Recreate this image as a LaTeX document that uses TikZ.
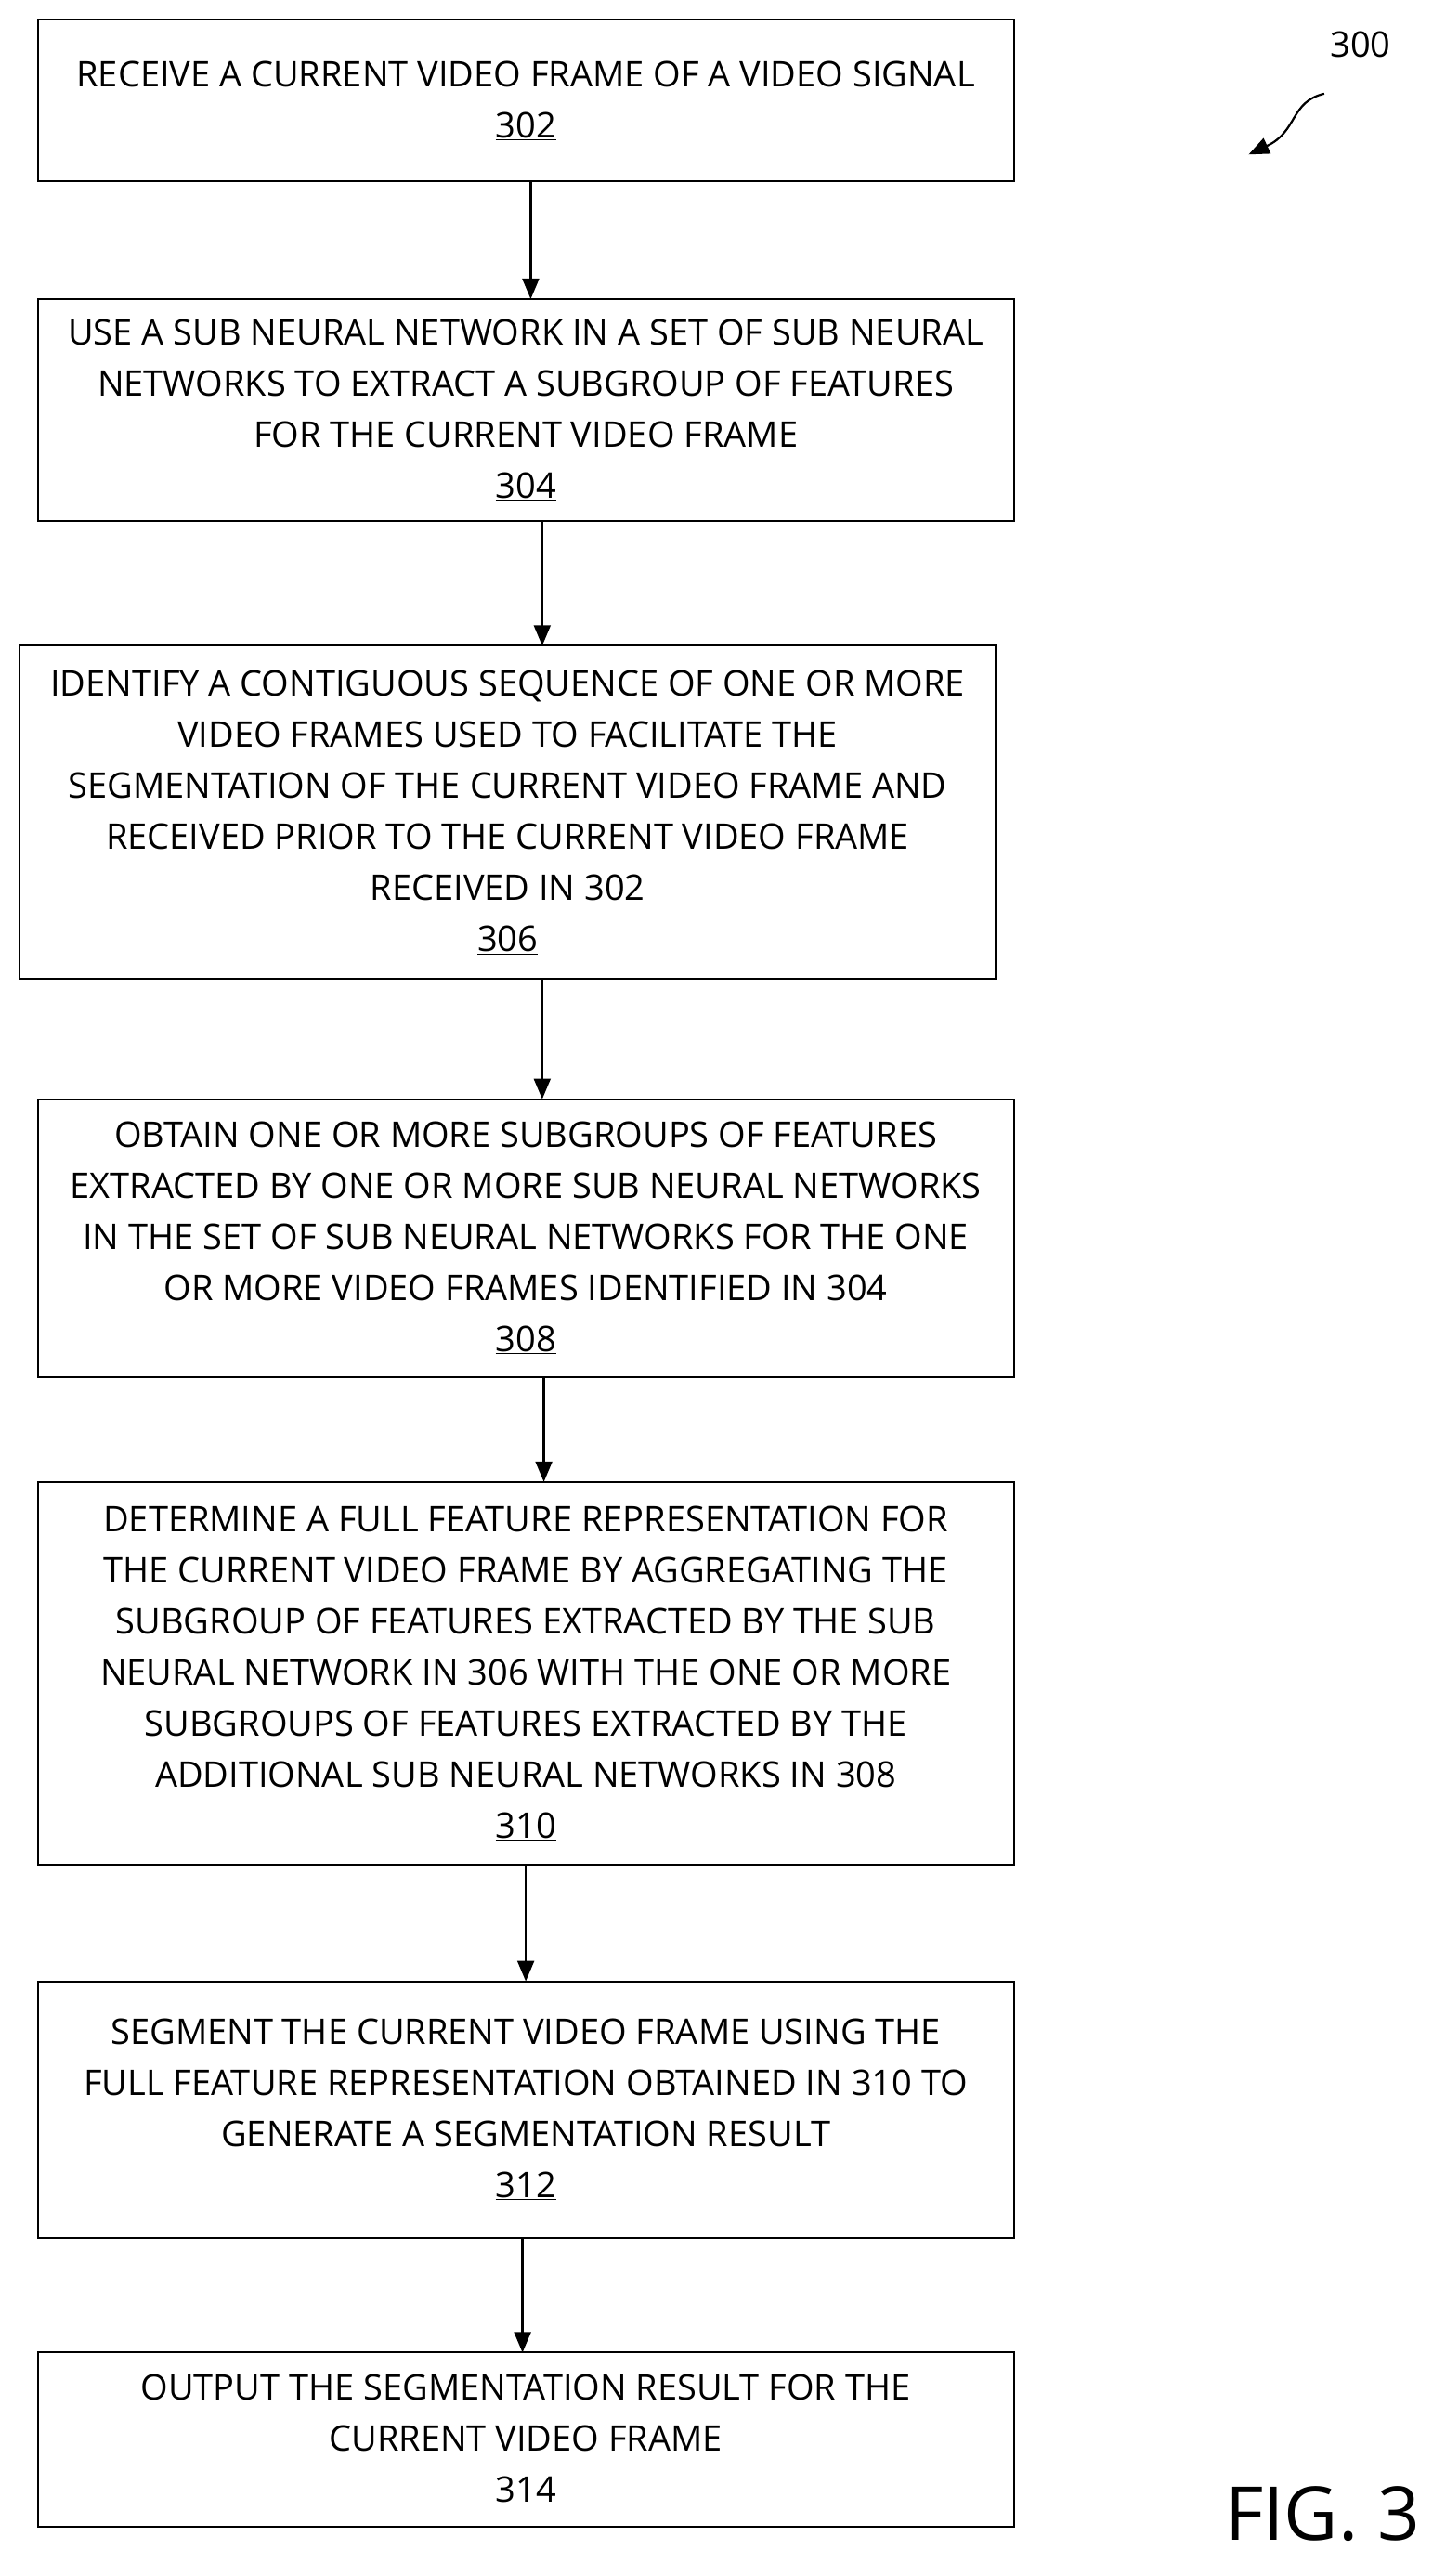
\documentclass[tikz,border=0pt]{standalone}
\usepackage{fontspec}
\setmainfont{Open Sans}
\usetikzlibrary{arrows.meta}
\begin{document}
\begin{tikzpicture}[x=1.769pt,y=-1.769pt,
  box/.style={draw,line width=2pt,inner sep=0pt},
  txt/.style={align=center,font=\fontsize{38}{55}\selectfont},
  arr/.style={line width=2.2pt,-{Triangle[length=22pt,width=18pt]}}]
\useasboundingbox (0,0) rectangle (880,1568);
\node[box,minimum width=594*1.769pt,minimum height=98*1.769pt] (b1) at (320,61) {};
\node[txt] at (b1) {RECEIVE A CURRENT VIDEO FRAME OF A VIDEO SIGNAL\\\underline{302}};
\node[box,minimum width=594*1.769pt,minimum height=135*1.769pt] (b2) at (320,249.5) {};
\node[txt] at (b2) {USE A SUB NEURAL NETWORK IN A SET OF SUB NEURAL\\NETWORKS TO EXTRACT A SUBGROUP OF FEATURES\\FOR THE CURRENT VIDEO FRAME\\\underline{304}};
\node[box,minimum width=594*1.769pt,minimum height=203*1.769pt] (b3) at (309,494.5) {};
\node[txt] at (b3) {IDENTIFY A CONTIGUOUS SEQUENCE OF ONE OR MORE\\VIDEO FRAMES USED TO FACILITATE THE\\SEGMENTATION OF THE CURRENT VIDEO FRAME AND\\RECEIVED PRIOR TO THE CURRENT VIDEO FRAME\\RECEIVED IN 302\\\underline{306}};
\node[box,minimum width=594*1.769pt,minimum height=169*1.769pt] (b4) at (320,753.5) {};
\node[txt] at (b4) {OBTAIN ONE OR MORE SUBGROUPS OF FEATURES\\EXTRACTED BY ONE OR MORE SUB NEURAL NETWORKS\\IN THE SET OF SUB NEURAL NETWORKS FOR THE ONE\\OR MORE VIDEO FRAMES IDENTIFIED IN 304\\\underline{308}};
\node[box,minimum width=594*1.769pt,minimum height=233*1.769pt] (b5) at (320,1018.5) {};
\node[txt] at (b5) {DETERMINE A FULL FEATURE REPRESENTATION FOR\\THE CURRENT VIDEO FRAME BY AGGREGATING THE\\SUBGROUP OF FEATURES EXTRACTED BY THE SUB\\NEURAL NETWORK IN 306 WITH THE ONE OR MORE\\SUBGROUPS OF FEATURES EXTRACTED BY THE\\ADDITIONAL SUB NEURAL NETWORKS IN 308\\\underline{310}};
\node[box,minimum width=594*1.769pt,minimum height=156*1.769pt] (b6) at (320,1284) {};
\node[txt] at (b6) {SEGMENT THE CURRENT VIDEO FRAME USING THE\\FULL FEATURE REPRESENTATION OBTAINED IN 310 TO\\GENERATE A SEGMENTATION RESULT\\\underline{312}};
\node[box,minimum width=594*1.769pt,minimum height=106*1.769pt] (b7) at (320,1485) {};
\node[txt] at (b7) {OUTPUT THE SEGMENTATION RESULT FOR THE\\CURRENT VIDEO FRAME\\\underline{314}};
\draw[arr] (323,110) -- (323,182);
\draw[arr] (330,317) -- (330,393);
\draw[arr] (330,596) -- (330,669);
\draw[arr] (331,838) -- (331,902);
\draw[arr] (320,1135) -- (320,1206);
\draw[arr] (318,1362) -- (318,1432);
\node[txt] (n300) at (828,27) {300};
\coordinate (c300) at (806,57);
\coordinate (e300) at (760,94);
\draw[arr] (c300) .. controls (785,62) and (790,80) .. (e300);
\node[font=\fontsize{80}{90}\selectfont] (fig) at (805,1530) {FIG. 3};
\end{tikzpicture}
\end{document}
